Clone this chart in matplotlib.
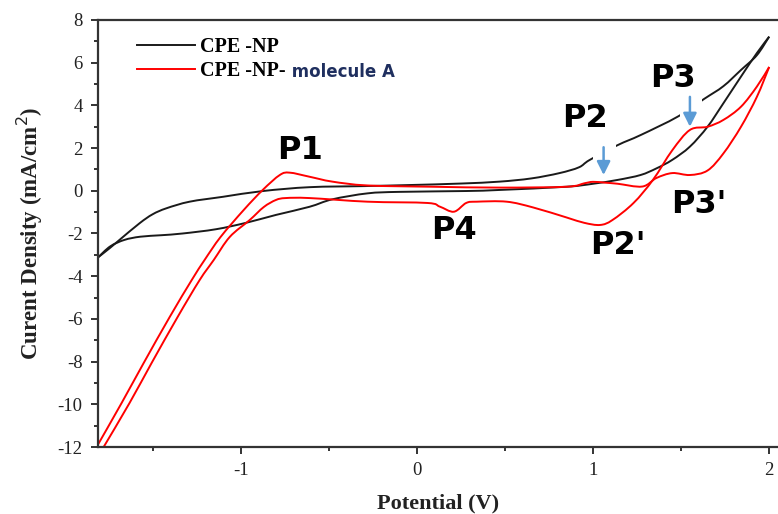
import numpy as np
import matplotlib
matplotlib.use('Agg')
import matplotlib.pyplot as plt
from matplotlib.patches import Rectangle, PathPatch
from matplotlib.path import Path
from matplotlib.lines import Line2D
from matplotlib.ticker import MultipleLocator

plt.rcParams['axes.unicode_minus'] = False

# CPE-NP (black), forward and return branches
np_fwd_x = [-1.81, -1.744, -1.688, -1.574, -1.50, -1.422, -1.29, -1.10, -0.873, -0.608, -0.30,
            -0.04, 0.25, 0.47, 0.65, 0.81, 0.92, 0.98, 1.14, 1.27, 1.48, 1.63, 1.74, 1.84, 1.93, 2.0]
np_fwd_y = [-3.12, -2.69, -2.30, -1.52, -1.10, -0.82, -0.51, -0.28, -0.01, 0.17, 0.22,
            0.27, 0.34, 0.43, 0.58, 0.83, 1.1, 1.44, 2.14, 2.61, 3.47, 4.3, 4.9, 5.66, 6.35, 7.22]
np_rev_x = [2.0, 1.93, 1.84, 1.74, 1.65, 1.55, 1.45, 1.36, 1.27, 1.14, 1.0, 0.85, 0.47, 0.28,
            -0.1, -0.28, -0.48, -0.61, -0.80, -0.97, -1.14, -1.33, -1.45, -1.57, -1.66, -1.74, -1.81]
np_rev_y = [7.22, 6.45, 5.35, 4.1, 3.0, 2.07, 1.45, 1.05, 0.74, 0.51, 0.33, 0.19, 0.04, -0.01,
            -0.05, -0.12, -0.4, -0.75, -1.13, -1.5, -1.8, -2.0, -2.08, -2.15, -2.3, -2.6, -3.12]

# CPE-NP-molecule A (red)
a_fwd_x = [-1.818, -1.676, -1.551, -1.403, -1.278, -1.205, -1.114, -0.983, -0.875, -0.778, -0.722,
           -0.61, -0.48, -0.28, 0.09, 0.47, 0.85, 0.95, 1.0, 1.07, 1.14, 1.28, 1.36, 1.45, 1.55,
           1.65, 1.74, 1.84, 1.93, 2.0]
a_fwd_y = [-12.0, -9.94, -8.07, -5.91, -4.18, -3.24, -2.16, -0.90, 0.04, 0.74, 0.85,
           0.66, 0.43, 0.25, 0.19, 0.15, 0.19, 0.35, 0.42, 0.38, 0.33, 0.2, 0.6, 0.83, 0.74,
           0.95, 1.75, 3.0, 4.4, 5.8]
a_rev_x = [2.0, 1.93, 1.84, 1.74, 1.65, 1.55, 1.45, 1.34, 1.23, 1.11, 1.04, 0.95, 0.85, 0.66,
           0.51, 0.34, 0.28, 0.21, 0.13, 0.06, -0.28, -0.61, -0.744, -0.80, -0.869, -0.949,
           -1.062, -1.153, -1.233, -1.358, -1.506, -1.631, -1.778]
a_rev_y = [5.8, 4.88, 3.94, 3.32, 3.0, 2.85, 1.9, 0.51, -0.57, -1.37, -1.6, -1.5, -1.25, -0.78,
           -0.51, -0.51, -0.57, -0.98, -0.74, -0.57, -0.51, -0.34, -0.34, -0.43, -0.76, -1.37,
           -2.16, -3.24, -4.18, -5.91, -8.07, -9.94, -12.0]

peak_labels = ["P1", "P2", "P3", "P4", "P2'", "P3'"]
peak_label_x = [-0.665, 0.955, 1.455, 0.21, 1.14, 1.60]
peak_label_y = [1.91, 3.4, 5.28, -1.88, -2.54, -0.66]


def smooth_path(xs, ys):
    # Catmull-Rom through the read points, drawn as cubic Bezier segments
    p = np.column_stack([xs, ys])
    q = np.vstack([p[:1], p, p[-1:]])
    verts = [p[0]]
    codes = [Path.MOVETO]
    for i in range(1, len(q) - 2):
        c1 = q[i] + (q[i + 1] - q[i - 1]) / 6
        c2 = q[i + 1] - (q[i + 2] - q[i]) / 6
        verts += [c1, c2, q[i + 1]]
        codes += [Path.CURVE4] * 3
    return Path(verts, codes)


fig = plt.figure(figsize=(7.78, 5.14), dpi=100)
ax = fig.add_axes([98 / 778, 1 - 447 / 514, 680 / 778, 427 / 514])

black = '#1a1a1a'
red = '#ff0000'
for xs, ys in [(np_fwd_x, np_fwd_y), (np_rev_x, np_rev_y)]:
    ax.add_patch(PathPatch(smooth_path(xs, ys), fill=False, edgecolor=black, lw=1.4, zorder=2))
for xs, ys in [(a_fwd_x, a_fwd_y), (a_rev_x, a_rev_y)]:
    ax.add_patch(PathPatch(smooth_path(xs, ys), fill=False, edgecolor=red, lw=1.4, zorder=2.5))

# white cut-outs in the black curve behind the arrows
for x0, y0, w, h in [(1.0, 1.4, 0.13, 0.9), (1.495, 3.35, 0.125, 1.0)]:
    ax.add_patch(Rectangle((x0, y0), w, h, facecolor='white', edgecolor='none', zorder=2.2))

# arrows
for xa, y_top, y_tip in [(1.06, 2.04, 0.74), (1.55, 4.4, 3.0)]:
    ax.annotate('', xy=(xa, y_tip), xytext=(xa, y_top),
                arrowprops=dict(arrowstyle='-|>', color='#5b9bd5', lw=1.8, mutation_scale=20,
                                shrinkA=0, shrinkB=0),
                zorder=3)

for lab, lx, ly in zip(peak_labels, peak_label_x, peak_label_y):
    ax.text(lx, ly, lab, fontsize=23, fontweight='bold', family='DejaVu Sans',
            ha='center', va='center', color='black', zorder=4)

ax.set_xlim(-1.81, 2.05)
ax.set_ylim(-12, 8)
ax.xaxis.set_major_locator(MultipleLocator(1))
ax.xaxis.set_minor_locator(MultipleLocator(0.5))
ax.yaxis.set_major_locator(MultipleLocator(2))
ax.yaxis.set_minor_locator(MultipleLocator(1))
ax.tick_params(which='both', direction='out', width=1.4, colors='#333333', top=False, right=False)
ax.tick_params(which='major', length=5, pad=6, labelsize=13.5, labelcolor='#222222')
ax.tick_params(which='minor', length=3)
for lab in ax.get_xticklabels() + ax.get_yticklabels():
    lab.set_family('Liberation Serif')
for s in ['left', 'bottom', 'top']:
    ax.spines[s].set_linewidth(1.6)
    ax.spines[s].set_color('#333333')
ax.spines['right'].set_visible(False)

ax.set_xlabel('Potential (V)', fontsize=16, fontweight='bold', family='Liberation Serif',
              labelpad=10, color='#222222')
ax.set_ylabel('Curent Density (mA/cm$^2$)', fontsize=16.5, fontweight='bold',
              family='Liberation Serif', labelpad=9, color='#222222')

handles = [Line2D([], [], color=black, lw=1.4), Line2D([], [], color=red, lw=1.4)]
leg = ax.legend(handles, ['CPE -NP', 'CPE -NP-'], loc='upper left',
                bbox_to_anchor=(0.042, 0.984), frameon=False, borderpad=0,
                handlelength=2.9, handletextpad=0.25, labelspacing=0.2,
                prop={'family': 'Liberation Serif', 'weight': 'bold', 'size': 14.5})

# second half of the red label is set in a different font
fig.canvas.draw()
bb = leg.get_texts()[1].get_window_extent()
ax.annotate(' molecule A', xy=(bb.x1, bb.y0 + 0.45 * bb.height), xycoords='figure pixels',
            ha='left', va='center', fontsize=12, fontweight='bold', family='DejaVu Sans',
            color='#1f2f5f')

fig.savefig('out.png', dpi=100)
